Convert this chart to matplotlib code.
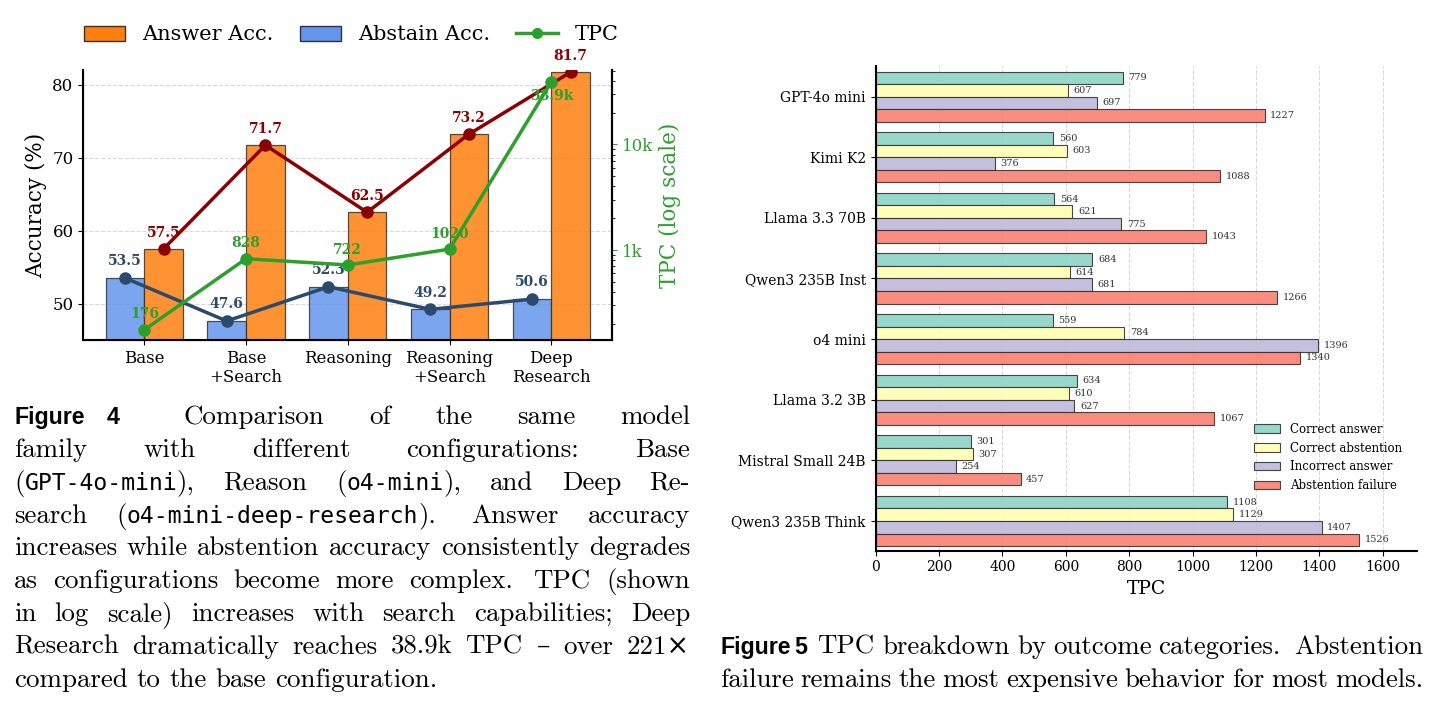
import numpy as np
import matplotlib
matplotlib.use('Agg')
import matplotlib.pyplot as plt
from matplotlib.patches import Patch
from matplotlib.lines import Line2D
from matplotlib.ticker import NullFormatter
from matplotlib import font_manager as fm

# ---------------- data ----------------
configs = ['Base', 'Base\n+Search', 'Reasoning', 'Reasoning\n+Search', 'Deep\nResearch']
answer_acc = [57.5, 71.7, 62.5, 73.2, 81.7]
abstain_acc = [53.5, 47.6, 52.3, 49.2, 50.6]
tpc = [176, 828, 722, 1020, 38900]
tpc_labels = ['176', '828', '722', '1020', '38.9k']

models = ['GPT-4o mini', 'Kimi K2', 'Llama 3.3 70B', 'Qwen3 235B Inst', 'o4 mini',
          'Llama 3.2 3B', 'Mistral Small 24B', 'Qwen3 235B Think']
correct_answer = [779, 560, 564, 684, 559, 634, 301, 1108]
correct_abstention = [607, 603, 621, 614, 784, 610, 307, 1129]
incorrect_answer = [697, 376, 775, 681, 1396, 627, 254, 1407]
abstention_failure = [1227, 1088, 1043, 1266, 1340, 1067, 457, 1526]
outcome_names = ['Correct answer', 'Correct abstention', 'Incorrect answer', 'Abstention failure']

# ---------------- style ----------------
W, H = 1440, 709
plt.rcParams['font.family'] = ['DejaVu Serif']
C_ORANGE = '#ff7f0e'
C_BLUE = '#6495ed'
C_RED = '#8b0000'
C_NAVY = '#2c4a6e'
C_GREEN = '#2ca02c'
SET3 = ['#8dd3c7', '#ffffb3', '#bebada', '#fb8072']

fig = plt.figure(figsize=(14.4, 7.09), dpi=100)


def rect(l, t, r, b):
    return [l / W, 1 - b / H, (r - l) / W, (b - t) / H]

# ---------------- left chart ----------------
ax1 = fig.add_axes(rect(83.3, 70, 612.3, 340))
x = np.arange(len(configs))
bw = 0.38
ax1.bar(x - bw / 2, abstain_acc, bw, color=C_BLUE, alpha=0.85, edgecolor='#333333', linewidth=0.9, zorder=2)
ax1.bar(x + bw / 2, answer_acc, bw, color=C_ORANGE, alpha=0.85, edgecolor='#333333', linewidth=0.9, zorder=2)
ax1.plot(x + bw / 2, answer_acc, color=C_RED, lw=2.5, marker='o', ms=8, zorder=4)
ax1.plot(x - bw / 2, abstain_acc, color=C_NAVY, lw=2.5, marker='o', ms=8, zorder=4)
for xi, v in zip(x, answer_acc):
    ax1.annotate(f'{v:.1f}', (xi + bw / 2, v), xytext=(0, 11.5), textcoords='offset points',
                 ha='center', va='center', fontsize=10, fontweight='bold', color=C_RED, zorder=6)
for xi, v in zip(x, abstain_acc):
    ax1.annotate(f'{v:.1f}', (xi - bw / 2, v), xytext=(0, 12), textcoords='offset points',
                 ha='center', va='center', fontsize=10, fontweight='bold', color=C_NAVY, zorder=6)
ax1.set_ylim(45, 82)
ax1.set_xlim(-0.6, 4.6)
ax1.set_yticks([50, 60, 70, 80])
ax1.set_xticks(x)
ax1.set_xticklabels(configs, fontsize=12)
ax1.tick_params(axis='y', labelsize=12)
ax1.set_ylabel('Accuracy (%)', fontsize=15.5)
ax1.grid(axis='y', linestyle='--', alpha=0.3, color='gray')
ax1.set_axisbelow(True)
ax1.spines['top'].set_visible(False)
for s in ['left', 'bottom', 'right']:
    ax1.spines[s].set_linewidth(1.5)

ax2 = ax1.twinx()
ax2.plot(x, tpc, color=C_GREEN, lw=2.5, marker='o', ms=8, zorder=4)
ax2.set_yscale('log')
ax2.set_ylim(min(tpc) * 0.8, max(tpc) * 1.3)
ax2.set_yticks([1000, 10000])
ax2.set_yticklabels(['1k', '10k'])
ax2.yaxis.set_minor_formatter(NullFormatter())
ax2.tick_params(axis='y', which='major', labelsize=12, labelcolor=C_GREEN, color=C_GREEN)
ax2.set_ylabel('TPC (log scale)', fontsize=15.5, color=C_GREEN)
ax2.spines['top'].set_visible(False)
ax2.spines['right'].set_linewidth(1.5)
for i, (xi, v, lab) in enumerate(zip(x, tpc, tpc_labels)):
    dy = -10 if i == len(tpc) - 1 else 11
    ax2.annotate(lab, (xi, v), xytext=(0, dy), textcoords='offset points',
                 ha='center', va='center', fontsize=10, fontweight='bold', color=C_GREEN, zorder=6)

handles = [Patch(facecolor=C_ORANGE, edgecolor='#333333'),
           Patch(facecolor=C_BLUE, edgecolor='#333333'),
           Line2D([0], [0], color=C_GREEN, lw=2.5, marker='o', ms=7)]
fig.legend(handles, ['Answer Acc.', 'Abstain Acc.', 'TPC'], loc='center',
           bbox_to_anchor=(351 / W, 1 - 35 / H), ncol=3, frameon=False, fontsize=15,
           columnspacing=1.25, handletextpad=0.8)

# ---------------- right chart ----------------
ax3 = fig.add_axes(rect(875.7, 65.7, 1417.3, 550.7))
y = np.arange(len(models))
h = 0.207
series = [correct_answer, correct_abstention, incorrect_answer, abstention_failure]
for k, (vals, nm, c) in enumerate(zip(series, outcome_names, SET3)):
    pos = y + (k - 1.5) * h
    ax3.barh(pos, vals, h, color=c, edgecolor='#333333', linewidth=0.8, alpha=0.9, label=nm, zorder=2)
    for p, v in zip(pos, vals):
        ax3.annotate(str(v), (v, p), xytext=(4, 0), textcoords='offset points',
                     va='center', ha='left', fontsize=7, color='#333333')
ax3.set_yticks(y)
ax3.set_yticklabels(models, fontsize=10)
ax3.set_ylim(7.49, -0.51)
ax3.set_xlim(0, max(abstention_failure) * 1.12)
ax3.set_xticks(np.arange(0, 1601, 200))
ax3.tick_params(axis='x', labelsize=10)
ax3.set_xlabel('TPC', fontsize=13.5)
ax3.grid(axis='x', linestyle='--', alpha=0.3, color='gray')
ax3.set_axisbelow(True)
ax3.spines['top'].set_visible(False)
ax3.spines['right'].set_visible(False)
ax3.spines['left'].set_linewidth(1.5)
ax3.spines['bottom'].set_linewidth(1.5)
ax3.legend(loc='upper left', bbox_to_anchor=(1243.6 / W, 1 - 412.0 / H), bbox_transform=fig.transFigure,
           frameon=False, fontsize=8.5, handlelength=2.2)

# ---------------- captions ----------------
renderer = fig.canvas.get_renderer()
names = {f.name for f in fm.fontManager.ttflist}
if 'Liberation Sans Narrow' in names:
    SF_FAM, SF_SCALE = ['Liberation Sans Narrow', 'Liberation Sans'], 1.0
else:
    SF_FAM, SF_SCALE = ['Liberation Sans'], 0.82


def measure(s, fp):
    t = fig.text(0, 0, s, **fp)
    w = t.get_window_extent(renderer).width
    t.remove()
    return w


def make_fonts(fs):
    rm = dict(family=['cmr10', 'DejaVu Serif'], size=fs)
    tt = dict(family=['DejaVu Sans Mono'], size=fs * 0.86)
    sf = dict(family=SF_FAM, size=fs * 1.05 * SF_SCALE, weight='bold')
    return rm, tt, sf


def words_of(text, fp):
    return [[(w, fp)] for w in text.split()]


def word_width(word):
    tot = 0.0
    for seg in word:
        tot += seg if isinstance(seg, (int, float)) else measure(seg[0], seg[1])
    return tot


def draw_line(words, x0, x1, ybase, justify, space):
    widths = [word_width(w) for w in words]
    gap = (x1 - x0 - sum(widths)) / (len(words) - 1) if justify else space
    xx = x0
    for w, wd in zip(words, widths):
        xs = xx
        for seg in w:
            if isinstance(seg, (int, float)):
                xs += seg
            else:
                fig.text(xs / W, 1 - ybase / H, seg[0], ha='left', va='baseline', **seg[1])
                xs += measure(seg[0], seg[1])
        xx += wd + gap


# font size fitted so that the tightest line spans the caption width
rm0, _, _ = make_fonts(10)
l5 = 'increases while abstention accuracy consistently degrades'
sp0 = measure('x x', rm0) - measure('xx', rm0)
nat = sum(measure(w, rm0) for w in l5.split()) + sp0 * (len(l5.split()) - 1)
FS = 10 * 676 / nat
RM, TT, SF = make_fonts(FS)
SP = measure('x x', RM) - measure('xx', RM)

left_lines = [
    [[('Figure', SF), 22.0, ('4', SF), 20.0]] + words_of('Comparison of the same model', RM),
    words_of('family with different configurations: Base', RM),
    [[('(', RM), ('GPT-4o-mini', TT), ('),', RM)], [('Reason', RM)],
     [('(', RM), ('o4-mini', TT), ('),', RM)]] + words_of('and Deep Re-', RM),
    [[('search', RM)], [('(', RM), ('o4-mini-deep-research', TT), (').', RM), 6.0]] + words_of('Answer accuracy', RM),
    words_of(l5, RM),
    words_of('as configurations become more', RM) + [[('complex.', RM), 6.0]] + words_of('TPC (shown', RM),
    words_of('in log scale) increases with search capabilities; Deep', RM),
    words_of('Research dramatically reaches 38.9k TPC', RM) + [[('\u2013', RM)]] + words_of('over 221\u00d7', RM),
    words_of('compared to the base configuration.', RM),
]
base0, lead = 424.0, 32.85
for i, ln in enumerate(left_lines):
    draw_line(ln, 14, 690, base0 + i * lead, i < len(left_lines) - 1, SP)

right_lines = [
    [[('Figure', SF), 4.0, ('5', SF), 4.0]] + words_of('TPC breakdown by outcome', RM)
    + [[('categories.', RM), 6.0]] + words_of('Abstention', RM),
    words_of('failure remains the most expensive behavior for most models.', RM),
]
for i, ln in enumerate(right_lines):
    draw_line(ln, 720, 1423, base0 + (7 + i) * lead, True, SP)

fig.savefig('out.png', dpi=100)
